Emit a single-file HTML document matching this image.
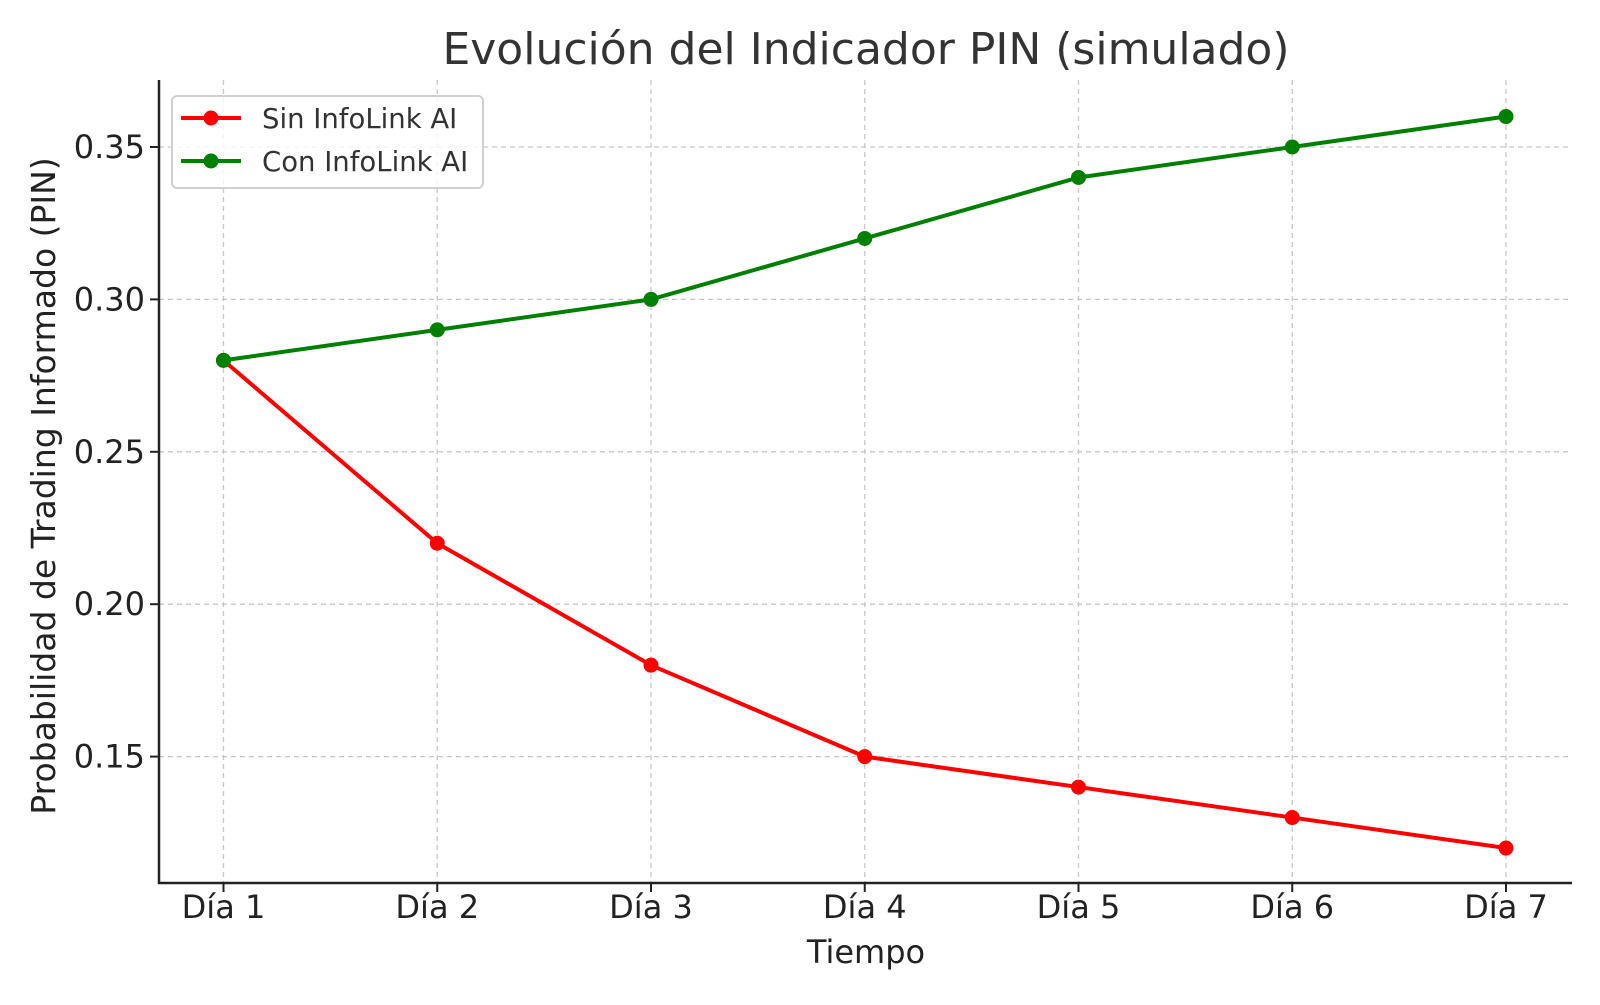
<!DOCTYPE html>
<html><head><meta charset="utf-8"><style>
body{margin:0;background:#fff}
svg text{font-family:"DejaVu Sans","Liberation Sans",sans-serif;fill:#222}
</style></head><body>
<svg id="chart" width="1600" height="1000" xmlns="http://www.w3.org/2000/svg">
<text x="866" y="64" font-size="44" text-anchor="middle" style="fill:#333">Evolución del Indicador PIN (simulado)</text>
<g id="grid"></g>
<g id="axes"></g>
<g id="series"></g>
<text x="866" y="963" font-size="32" text-anchor="middle">Tiempo</text>
<text transform="translate(55,486) rotate(-90)" font-size="33" text-anchor="middle">Probabilidad de Trading Informado (PIN)</text>
<g>
<rect x="172" y="96" width="311" height="92" rx="5" fill="#fff" fill-opacity="0.8" stroke="#d0d0d0" stroke-width="2"/>
<line x1="181" y1="118" x2="241" y2="118" stroke="#ff0000" stroke-width="4"/>
<circle cx="211" cy="118" r="7.5" fill="#ff0000"/>
<text x="262" y="128" font-size="27.5" style="fill:#333">Sin InfoLink AI</text>
<line x1="181" y1="161" x2="241" y2="161" stroke="#008000" stroke-width="4"/>
<circle cx="211" cy="161" r="7.5" fill="#008000"/>
<text x="262" y="171" font-size="27.5" style="fill:#333">Con InfoLink AI</text>
</g>
</svg>
<script>
const categories=["Día 1","Día 2","Día 3","Día 4","Día 5","Día 6","Día 7"];
const sinValues=[0.28,0.22,0.18,0.15,0.14,0.13,0.12];
const conValues=[0.28,0.29,0.30,0.32,0.34,0.35,0.36];
const yTicks=[0.15,0.20,0.25,0.30,0.35];
const yTickLabels=["0.15","0.20","0.25","0.30","0.35"];
const NS="http://www.w3.org/2000/svg";
const L=159,R=1572,T=80,B=883;
function xs(i){return 223.5+i*(1506-223.5)/(categories.length-1);}
function ys(v){return 147+(0.35-v)*3048;}
function mk(tag,a,p){const e=document.createElementNS(NS,tag);for(const k in a)e.setAttribute(k,a[k]);p.appendChild(e);return e;}
const grid=document.getElementById('grid'),axes=document.getElementById('axes'),ser=document.getElementById('series');
categories.forEach((c,i)=>{
 const g=mk('line',{x1:xs(i),x2:xs(i),y1:T,y2:B,stroke:'#c8c8c8','stroke-width':1.3,'stroke-dasharray':'5,4'},grid);
 
 
 const t=mk('line',{x1:xs(i),x2:xs(i),y1:B,y2:B+9,stroke:'#222','stroke-width':2},axes);
 
 
 const l=mk('text',{x:xs(i),y:918,'font-size':32,'text-anchor':'middle'},axes);
 l.textContent=c;
 
 
});
yTicks.forEach((v,i)=>{
 const g=mk('line',{x1:L,x2:R,y1:ys(v),y2:ys(v),stroke:'#c8c8c8','stroke-width':1.3,'stroke-dasharray':'5,4'},grid);
 
 
 const t=mk('line',{x1:L-9,x2:L,y1:ys(v),y2:ys(v),stroke:'#222','stroke-width':2},axes);
 
 
 const l=mk('text',{x:L-14,y:ys(v)+11,'font-size':32,'text-anchor':'end'},axes);
 l.textContent=yTickLabels[i];
 
 
});
const ya=mk('line',{x1:L,x2:L,y1:T,y2:B+1,stroke:'#222','stroke-width':2.5},axes);


const xa=mk('line',{x1:L-1,x2:R,y1:B,y2:B,stroke:'#222','stroke-width':2.5},axes);


function draw(vals,color,name){
 const pl=mk('polyline',{points:vals.map((v,i)=>xs(i)+','+ys(v)).join(' '),fill:'none',stroke:color,'stroke-width':4,'stroke-linejoin':'round'},ser);
 
 
 vals.forEach((v,i)=>{
  const c=mk('circle',{cx:xs(i),cy:ys(v),r:7.5,fill:color},ser);
  
  
 });
}
draw(sinValues,'#ff0000','sin-infolink');
draw(conValues,'#008000','con-infolink');
</script>
</body></html>
